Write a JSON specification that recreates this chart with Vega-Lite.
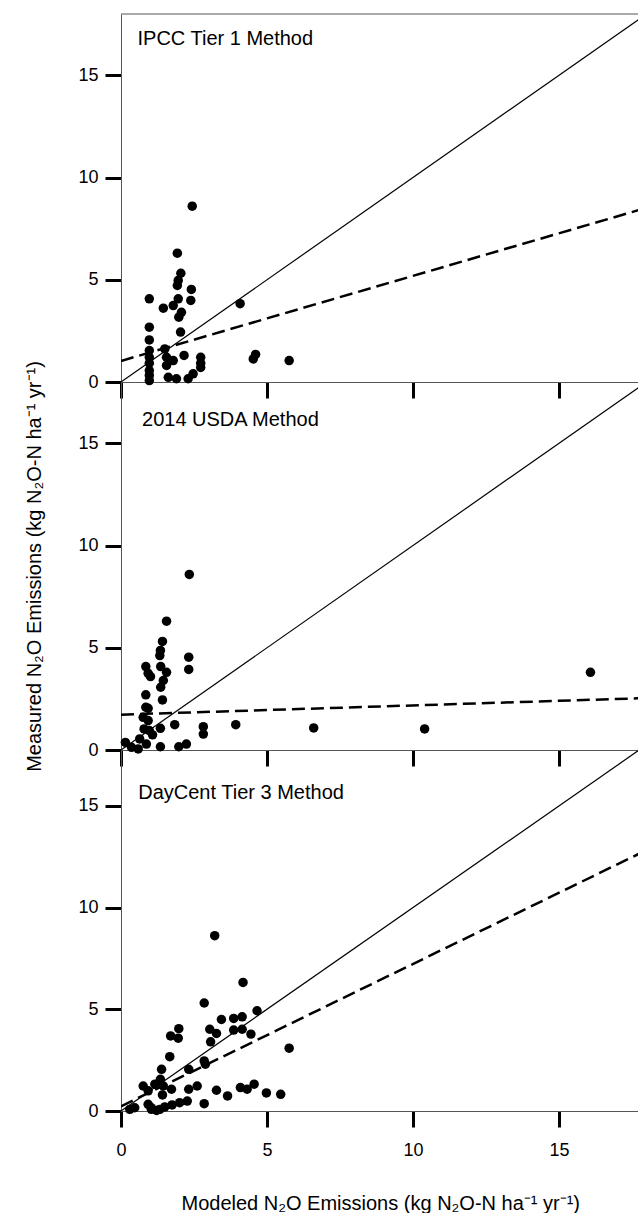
{
  "$schema": "https://vega.github.io/schema/vega-lite/v6.json",
  "background": "white",
  "padding": {"left": 24, "top": 13, "right": 0, "bottom": 0},
  "autosize": {"type": "pad"},
  "spacing": 0,
  "bounds": "flush",
  "config": {
    "view": {"stroke": null},
    "font": "Liberation Sans",
    "axis": {
      "domainColor": "#555555", "domainWidth": 1,
      "tickColor": "black", "tickWidth": 3, "tickSize": 16,
      "labelFont": "Liberation Sans", "labelFontSize": 18, "labelColor": "black", "labelPadding": 7,
      "titleFont": "Liberation Sans", "titleFontSize": 20, "titleFontWeight": "normal", "titleColor": "black",
      "grid": false, "labelFlush": false
    },
    "axisY": {"titlePadding": 33},
    "axisX": {"labelPadding": 14, "titlePadding": 34}
  },
  "datasets": {
    "points": [
      {"panel": "IPCC", "x": 2.44, "y": 8.60},
      {"panel": "IPCC", "x": 1.93, "y": 6.30},
      {"panel": "IPCC", "x": 2.05, "y": 5.32},
      {"panel": "IPCC", "x": 1.96, "y": 4.97},
      {"panel": "IPCC", "x": 1.93, "y": 4.72},
      {"panel": "IPCC", "x": 2.41, "y": 4.53},
      {"panel": "IPCC", "x": 0.97, "y": 4.07},
      {"panel": "IPCC", "x": 1.96, "y": 4.07},
      {"panel": "IPCC", "x": 2.39, "y": 3.99},
      {"panel": "IPCC", "x": 1.45, "y": 3.61},
      {"panel": "IPCC", "x": 1.79, "y": 3.74},
      {"panel": "IPCC", "x": 2.07, "y": 3.41},
      {"panel": "IPCC", "x": 1.98, "y": 3.17},
      {"panel": "IPCC", "x": 2.04, "y": 2.44},
      {"panel": "IPCC", "x": 4.08, "y": 3.83},
      {"panel": "IPCC", "x": 0.97, "y": 2.68},
      {"panel": "IPCC", "x": 0.97, "y": 2.06},
      {"panel": "IPCC", "x": 0.97, "y": 1.54},
      {"panel": "IPCC", "x": 0.97, "y": 1.21},
      {"panel": "IPCC", "x": 0.97, "y": 0.92},
      {"panel": "IPCC", "x": 0.97, "y": 0.56},
      {"panel": "IPCC", "x": 0.97, "y": 0.32},
      {"panel": "IPCC", "x": 0.97, "y": 0.07},
      {"panel": "IPCC", "x": 1.50, "y": 1.62},
      {"panel": "IPCC", "x": 1.56, "y": 1.21},
      {"panel": "IPCC", "x": 1.56, "y": 0.81},
      {"panel": "IPCC", "x": 1.79, "y": 1.05},
      {"panel": "IPCC", "x": 2.16, "y": 1.30},
      {"panel": "IPCC", "x": 1.62, "y": 0.23},
      {"panel": "IPCC", "x": 1.90, "y": 0.16},
      {"panel": "IPCC", "x": 2.30, "y": 0.16},
      {"panel": "IPCC", "x": 2.47, "y": 0.40},
      {"panel": "IPCC", "x": 2.73, "y": 1.21},
      {"panel": "IPCC", "x": 2.73, "y": 0.92},
      {"panel": "IPCC", "x": 2.73, "y": 0.71},
      {"panel": "IPCC", "x": 4.53, "y": 1.13},
      {"panel": "IPCC", "x": 4.61, "y": 1.35},
      {"panel": "IPCC", "x": 5.76, "y": 1.05},
      {"panel": "USDA", "x": 2.34, "y": 8.59},
      {"panel": "USDA", "x": 1.56, "y": 6.30},
      {"panel": "USDA", "x": 1.42, "y": 5.31},
      {"panel": "USDA", "x": 1.35, "y": 4.87},
      {"panel": "USDA", "x": 1.33, "y": 4.62},
      {"panel": "USDA", "x": 2.32, "y": 4.54},
      {"panel": "USDA", "x": 2.32, "y": 3.94},
      {"panel": "USDA", "x": 0.85, "y": 4.08},
      {"panel": "USDA", "x": 0.93, "y": 3.75},
      {"panel": "USDA", "x": 1.01, "y": 3.59},
      {"panel": "USDA", "x": 1.36, "y": 4.08},
      {"panel": "USDA", "x": 1.56, "y": 3.80},
      {"panel": "USDA", "x": 1.45, "y": 3.40},
      {"panel": "USDA", "x": 1.36, "y": 3.07},
      {"panel": "USDA", "x": 1.42, "y": 2.45},
      {"panel": "USDA", "x": 0.85, "y": 2.70},
      {"panel": "USDA", "x": 0.85, "y": 2.09},
      {"panel": "USDA", "x": 0.93, "y": 2.04},
      {"panel": "USDA", "x": 0.76, "y": 1.60},
      {"panel": "USDA", "x": 0.93, "y": 1.44},
      {"panel": "USDA", "x": 0.79, "y": 1.03},
      {"panel": "USDA", "x": 0.97, "y": 0.95},
      {"panel": "USDA", "x": 1.08, "y": 0.74},
      {"panel": "USDA", "x": 0.64, "y": 0.54},
      {"panel": "USDA", "x": 0.87, "y": 0.29},
      {"panel": "USDA", "x": 0.59, "y": 0.05},
      {"panel": "USDA", "x": 0.36, "y": 0.13},
      {"panel": "USDA", "x": 0.15, "y": 0.37},
      {"panel": "USDA", "x": 1.35, "y": 1.06},
      {"panel": "USDA", "x": 1.35, "y": 0.16},
      {"panel": "USDA", "x": 1.84, "y": 1.24},
      {"panel": "USDA", "x": 1.98, "y": 0.16},
      {"panel": "USDA", "x": 2.24, "y": 0.29},
      {"panel": "USDA", "x": 2.82, "y": 1.14},
      {"panel": "USDA", "x": 2.82, "y": 0.78},
      {"panel": "USDA", "x": 3.93, "y": 1.24},
      {"panel": "USDA", "x": 6.60, "y": 1.08},
      {"panel": "USDA", "x": 10.40, "y": 1.03},
      {"panel": "USDA", "x": 16.08, "y": 3.80},
      {"panel": "DayCent", "x": 3.21, "y": 8.62},
      {"panel": "DayCent", "x": 4.18, "y": 6.32},
      {"panel": "DayCent", "x": 2.85, "y": 5.31},
      {"panel": "DayCent", "x": 4.66, "y": 4.93},
      {"panel": "DayCent", "x": 3.44, "y": 4.50},
      {"panel": "DayCent", "x": 3.86, "y": 4.55},
      {"panel": "DayCent", "x": 4.15, "y": 4.63},
      {"panel": "DayCent", "x": 3.04, "y": 4.02},
      {"panel": "DayCent", "x": 3.27, "y": 3.81},
      {"panel": "DayCent", "x": 3.86, "y": 3.98},
      {"panel": "DayCent", "x": 4.15, "y": 4.02},
      {"panel": "DayCent", "x": 4.45, "y": 3.78},
      {"panel": "DayCent", "x": 3.07, "y": 3.40},
      {"panel": "DayCent", "x": 1.98, "y": 4.05},
      {"panel": "DayCent", "x": 1.70, "y": 3.69},
      {"panel": "DayCent", "x": 1.96, "y": 3.58},
      {"panel": "DayCent", "x": 5.76, "y": 3.09},
      {"panel": "DayCent", "x": 1.67, "y": 2.67},
      {"panel": "DayCent", "x": 2.85, "y": 2.46},
      {"panel": "DayCent", "x": 1.39, "y": 2.05},
      {"panel": "DayCent", "x": 2.32, "y": 2.05},
      {"panel": "DayCent", "x": 2.89, "y": 2.30},
      {"panel": "DayCent", "x": 1.35, "y": 1.56},
      {"panel": "DayCent", "x": 1.16, "y": 1.32},
      {"panel": "DayCent", "x": 0.76, "y": 1.23},
      {"panel": "DayCent", "x": 1.45, "y": 1.23},
      {"panel": "DayCent", "x": 1.73, "y": 1.07},
      {"panel": "DayCent", "x": 1.42, "y": 0.79},
      {"panel": "DayCent", "x": 0.93, "y": 0.99},
      {"panel": "DayCent", "x": 2.32, "y": 1.07},
      {"panel": "DayCent", "x": 2.61, "y": 1.23},
      {"panel": "DayCent", "x": 3.27, "y": 1.02},
      {"panel": "DayCent", "x": 3.65, "y": 0.74},
      {"panel": "DayCent", "x": 4.09, "y": 1.15},
      {"panel": "DayCent", "x": 4.32, "y": 1.07},
      {"panel": "DayCent", "x": 4.56, "y": 1.32},
      {"panel": "DayCent", "x": 4.98, "y": 0.89},
      {"panel": "DayCent", "x": 5.47, "y": 0.82},
      {"panel": "DayCent", "x": 2.85, "y": 0.36},
      {"panel": "DayCent", "x": 2.27, "y": 0.49},
      {"panel": "DayCent", "x": 2.01, "y": 0.41},
      {"panel": "DayCent", "x": 1.75, "y": 0.30},
      {"panel": "DayCent", "x": 1.50, "y": 0.20},
      {"panel": "DayCent", "x": 1.22, "y": 0.03},
      {"panel": "DayCent", "x": 1.04, "y": 0.16},
      {"panel": "DayCent", "x": 0.93, "y": 0.33},
      {"panel": "DayCent", "x": 0.47, "y": 0.16},
      {"panel": "DayCent", "x": 0.30, "y": 0.08},
      {"panel": "DayCent", "x": 1.04, "y": 0.08},
      {"panel": "DayCent", "x": 1.33, "y": 0.08}
    ],
    "fits": [
      {"panel": "IPCC", "x": 0, "y": 1.03},
      {"panel": "IPCC", "x": 17.76, "y": 8.42},
      {"panel": "USDA", "x": 0, "y": 1.73},
      {"panel": "USDA", "x": 17.76, "y": 2.53},
      {"panel": "DayCent", "x": 0, "y": 0.23},
      {"panel": "DayCent", "x": 17.76, "y": 12.66}
    ],
    "oneToOne": [
      {"x": 0, "y": 0},
      {"x": 17.76, "y": 17.76}
    ],
    "labels": [
      {"panel": "IPCC", "x": 0.565, "y": 16.46, "label": "IPCC Tier 1 Method"},
      {"panel": "USDA", "x": 0.72, "y": 15.85, "label": "2014 USDA Method"},
      {"panel": "DayCent", "x": 0.59, "y": 15.32, "label": "DayCent Tier 3 Method"}
    ]
  },
  "vconcat": [
    {
      "width": 518.5, "height": 368,
      "layer": [
        {"data": {"values": [{}]}, "mark": {"type": "rule", "color": "#555555", "strokeWidth": 1},
         "encoding": {"y": {"datum": 18, "type": "quantitative", "scale": {"domain": [0, 18], "nice": false}, "axis": {"values": [0, 5, 10, 15], "title": null}}}},
        {"data": {"name": "oneToOne"}, "mark": {"type": "line", "color": "black", "strokeWidth": 1.2, "clip": true},
         "encoding": {
           "x": {"field": "x", "type": "quantitative", "scale": {"domain": [0, 17.76], "nice": false, "zero": false}, "axis": {"values": [0, 5, 10, 15], "labels": false, "title": null}},
           "y": {"field": "y", "type": "quantitative", "scale": {"domain": [0, 18], "nice": false}, "axis": {"values": [0, 5, 10, 15], "title": null}}}},
        {"data": {"name": "fits"}, "transform": [{"filter": "datum.panel === 'IPCC'"}],
         "mark": {"type": "line", "color": "black", "strokeWidth": 2.5, "strokeDash": [13, 6], "clip": true},
         "encoding": {
           "x": {"field": "x", "type": "quantitative", "scale": {"domain": [0, 17.76], "nice": false, "zero": false}, "axis": {"values": [0, 5, 10, 15], "labels": false, "title": null}},
           "y": {"field": "y", "type": "quantitative", "scale": {"domain": [0, 18], "nice": false}, "axis": {"values": [0, 5, 10, 15], "title": null}}}},
        {"data": {"name": "points"}, "transform": [{"filter": "datum.panel === 'IPCC'"}],
         "mark": {"type": "circle", "color": "black", "size": 90, "opacity": 1},
         "encoding": {
           "x": {"field": "x", "type": "quantitative", "scale": {"domain": [0, 17.76], "nice": false, "zero": false}, "axis": {"values": [0, 5, 10, 15], "labels": false, "title": null}},
           "y": {"field": "y", "type": "quantitative", "scale": {"domain": [0, 18], "nice": false}, "axis": {"values": [0, 5, 10, 15], "title": null}}}},
        {"data": {"name": "labels"}, "transform": [{"filter": "datum.panel === 'IPCC'"}],
         "mark": {"type": "text", "align": "left", "baseline": "alphabetic", "fontSize": 20, "font": "Liberation Sans", "color": "black"},
         "encoding": {
           "x": {"field": "x", "type": "quantitative", "scale": {"domain": [0, 17.76], "nice": false, "zero": false}, "axis": {"values": [0, 5, 10, 15], "labels": false, "title": null}},
           "y": {"field": "y", "type": "quantitative", "scale": {"domain": [0, 18], "nice": false}, "axis": {"values": [0, 5, 10, 15], "title": null}},
           "text": {"field": "label"}}}
      ]
    },
    {
      "width": 518.5, "height": 368,
      "layer": [
        {"data": {"name": "oneToOne"}, "mark": {"type": "line", "color": "black", "strokeWidth": 1.2, "clip": true},
         "encoding": {
           "x": {"field": "x", "type": "quantitative", "scale": {"domain": [0, 17.76], "nice": false, "zero": false}, "axis": {"values": [0, 5, 10, 15], "labels": false, "title": null}},
           "y": {"field": "y", "type": "quantitative", "scale": {"domain": [0, 18], "nice": false}, "axis": {"values": [0, 5, 10, 15], "title": "Measured N₂O Emissions (kg N₂O-N ha⁻¹ yr⁻¹)"}}}},
        {"data": {"name": "fits"}, "transform": [{"filter": "datum.panel === 'USDA'"}],
         "mark": {"type": "line", "color": "black", "strokeWidth": 2.5, "strokeDash": [13, 6], "clip": true},
         "encoding": {
           "x": {"field": "x", "type": "quantitative", "scale": {"domain": [0, 17.76], "nice": false, "zero": false}, "axis": {"values": [0, 5, 10, 15], "labels": false, "title": null}},
           "y": {"field": "y", "type": "quantitative", "scale": {"domain": [0, 18], "nice": false}, "axis": {"values": [0, 5, 10, 15], "title": "Measured N₂O Emissions (kg N₂O-N ha⁻¹ yr⁻¹)"}}}},
        {"data": {"name": "points"}, "transform": [{"filter": "datum.panel === 'USDA'"}],
         "mark": {"type": "circle", "color": "black", "size": 90, "opacity": 1},
         "encoding": {
           "x": {"field": "x", "type": "quantitative", "scale": {"domain": [0, 17.76], "nice": false, "zero": false}, "axis": {"values": [0, 5, 10, 15], "labels": false, "title": null}},
           "y": {"field": "y", "type": "quantitative", "scale": {"domain": [0, 18], "nice": false}, "axis": {"values": [0, 5, 10, 15], "title": "Measured N₂O Emissions (kg N₂O-N ha⁻¹ yr⁻¹)"}}}},
        {"data": {"name": "labels"}, "transform": [{"filter": "datum.panel === 'USDA'"}],
         "mark": {"type": "text", "align": "left", "baseline": "alphabetic", "fontSize": 20, "font": "Liberation Sans", "color": "black"},
         "encoding": {
           "x": {"field": "x", "type": "quantitative", "scale": {"domain": [0, 17.76], "nice": false, "zero": false}, "axis": {"values": [0, 5, 10, 15], "labels": false, "title": null}},
           "y": {"field": "y", "type": "quantitative", "scale": {"domain": [0, 18], "nice": false}, "axis": {"values": [0, 5, 10, 15], "title": "Measured N₂O Emissions (kg N₂O-N ha⁻¹ yr⁻¹)"}},
           "text": {"field": "label"}}}
      ]
    },
    {
      "width": 518.5, "height": 361,
      "layer": [
        {"data": {"name": "oneToOne"}, "mark": {"type": "line", "color": "black", "strokeWidth": 1.2, "clip": true},
         "encoding": {
           "x": {"field": "x", "type": "quantitative", "scale": {"domain": [0, 17.76], "nice": false, "zero": false}, "axis": {"values": [0, 5, 10, 15], "title": "Modeled N₂O Emissions (kg N₂O-N ha⁻¹ yr⁻¹)"}},
           "y": {"field": "y", "type": "quantitative", "scale": {"domain": [0, 17.75], "nice": false}, "axis": {"values": [0, 5, 10, 15], "title": null}}}},
        {"data": {"name": "fits"}, "transform": [{"filter": "datum.panel === 'DayCent'"}],
         "mark": {"type": "line", "color": "black", "strokeWidth": 2.5, "strokeDash": [13, 6], "clip": true},
         "encoding": {
           "x": {"field": "x", "type": "quantitative", "scale": {"domain": [0, 17.76], "nice": false, "zero": false}, "axis": {"values": [0, 5, 10, 15], "title": "Modeled N₂O Emissions (kg N₂O-N ha⁻¹ yr⁻¹)"}},
           "y": {"field": "y", "type": "quantitative", "scale": {"domain": [0, 17.75], "nice": false}, "axis": {"values": [0, 5, 10, 15], "title": null}}}},
        {"data": {"name": "points"}, "transform": [{"filter": "datum.panel === 'DayCent'"}],
         "mark": {"type": "circle", "color": "black", "size": 90, "opacity": 1},
         "encoding": {
           "x": {"field": "x", "type": "quantitative", "scale": {"domain": [0, 17.76], "nice": false, "zero": false}, "axis": {"values": [0, 5, 10, 15], "title": "Modeled N₂O Emissions (kg N₂O-N ha⁻¹ yr⁻¹)"}},
           "y": {"field": "y", "type": "quantitative", "scale": {"domain": [0, 17.75], "nice": false}, "axis": {"values": [0, 5, 10, 15], "title": null}}}},
        {"data": {"name": "labels"}, "transform": [{"filter": "datum.panel === 'DayCent'"}],
         "mark": {"type": "text", "align": "left", "baseline": "alphabetic", "fontSize": 20, "font": "Liberation Sans", "color": "black"},
         "encoding": {
           "x": {"field": "x", "type": "quantitative", "scale": {"domain": [0, 17.76], "nice": false, "zero": false}, "axis": {"values": [0, 5, 10, 15], "title": "Modeled N₂O Emissions (kg N₂O-N ha⁻¹ yr⁻¹)"}},
           "y": {"field": "y", "type": "quantitative", "scale": {"domain": [0, 17.75], "nice": false}, "axis": {"values": [0, 5, 10, 15], "title": null}},
           "text": {"field": "label"}}}
      ]
    }
  ]
}
